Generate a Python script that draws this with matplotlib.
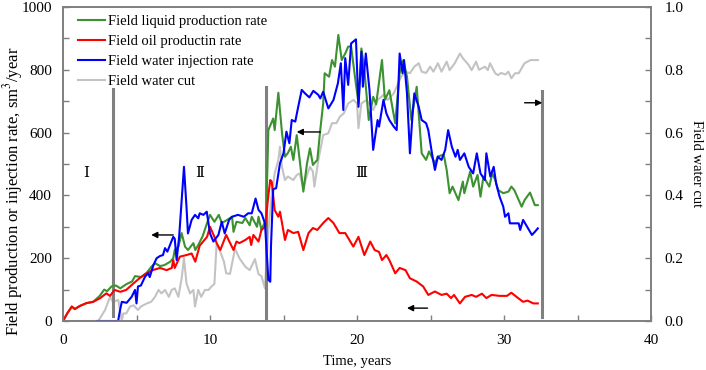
import matplotlib
matplotlib.use("Agg")
from matplotlib import pyplot as plt
from matplotlib.ticker import MultipleLocator

plt.rcParams["font.family"] = ["Liberation Serif", "DejaVu Serif"]
plt.rcParams["mathtext.fontset"] = "stix"
plt.rcParams["font.size"] = 10.5

# oil production rate, sm3/year
t_oil = [0, 0.3, 0.6, 0.8, 1.15, 1.6, 2.05, 2.5, 2.95, 3.2, 3.5, 3.9, 4.3, 4.8, 5.2,
         5.7, 6.1, 6.6, 7.05, 7.4, 7.5, 7.6, 7.95, 8.4, 8.75, 9.0, 9.3, 9.8, 10.0,
         10.3, 10.45, 10.7, 11.1, 11.6, 11.8, 12.0, 12.4, 12.7, 12.8, 12.95, 13.3,
         13.5, 13.75, 13.97, 14.1, 14.2, 14.4, 14.65, 14.76, 14.9, 15.1, 15.3, 15.67,
         16.0, 16.35, 16.7, 17.0, 17.3, 17.7, 18.05, 18.4, 18.8, 19.2, 19.75, 20.1,
         20.5, 20.9, 21.2, 21.5, 21.7, 22.0, 22.2, 22.6, 22.9, 23.3, 23.6, 24.05,
         24.5, 24.85, 25.3, 25.75, 26.1, 26.4, 26.6, 27.0, 27.35, 27.8, 28.1, 28.5,
         28.8, 29.15, 29.7, 30.2, 30.5, 30.85, 31.3, 31.6, 32.0, 32.3]
q_oil = [0, 25, 46, 38, 48, 57, 61, 72, 88, 80, 99, 93, 99, 120, 136,
         152, 162, 169, 162, 169, 194, 169, 205, 210, 215, 189, 240, 268, 300,
         268, 248, 226, 274, 226, 253, 248, 258, 268, 242, 274, 253,
         290, 300, 400, 449, 443, 353, 332, 348, 312, 258, 290, 280,
         284, 226, 280, 296, 290, 312, 328, 312, 280, 280, 237, 268,
         210, 253, 226, 220, 194, 210, 194, 152, 169, 162, 136, 126,
         110, 83, 94, 83, 87, 73, 83, 56, 77, 83, 77, 87,
         73, 83, 80, 80, 90, 77, 61, 65, 56, 56]

# liquid production rate, sm3/year
t_liq = [0, 0.3, 0.6, 0.8, 1.15, 1.6, 2.05, 2.5, 2.8, 3.0, 3.3, 3.6, 3.9, 4.3, 4.7,
         4.9, 5.3, 5.7, 6.0, 6.26, 6.6, 6.9, 7.3, 7.5, 7.6, 7.85, 8.07, 8.3, 8.5,
         8.87, 9.0, 9.2, 9.5, 9.8, 10.0, 10.3, 10.6, 10.8, 11.1, 11.5, 11.6, 11.8,
         12.2, 12.4, 12.7, 12.84, 13.2, 13.3, 13.5, 13.7, 13.8, 13.97, 14.3, 14.4,
         14.65, 14.9, 15.1, 15.3, 15.5, 15.67, 15.9, 16.1, 16.35, 16.6, 16.8, 17.0,
         17.3, 17.5, 17.7, 17.8, 18.1, 18.3, 18.5, 18.73, 18.96, 19.2, 19.4, 19.6,
         19.86, 20.1, 20.3, 20.5, 20.8, 21.1, 21.3, 21.7, 21.9, 22.2, 22.6, 22.9,
         23.15, 23.4, 23.7, 24.06, 24.4, 24.7, 24.9, 25.3, 25.5, 25.9, 26.1, 26.3,
         26.5, 26.9, 27.2, 27.3, 27.7, 27.9, 28.2, 28.4, 28.6, 29.0, 29.2, 29.4,
         29.6, 29.95, 30.3, 30.5, 30.7, 31.2, 31.4, 31.77, 32.1, 32.3]
q_liq = [0, 25, 46, 38, 48, 57, 61, 80, 100, 95, 110, 113, 104, 117, 126,
         143, 140, 154, 172, 184, 175, 178, 189, 200, 226, 237, 280, 237, 226,
         248, 226, 242, 270, 312, 338, 316, 338, 312, 320, 332, 284, 316,
         312, 328, 305, 332, 300, 332, 290, 312, 300, 608, 645, 608,
         727, 598, 523, 535, 555, 513, 592, 513, 412, 502, 550, 497,
         513, 608, 693, 789, 778, 831, 810, 911, 831, 852, 874, 874,
         778, 693, 868, 800, 640, 714, 690, 831, 704, 735, 630, 789,
         831, 778, 640, 746, 534, 513, 540, 502, 524, 530, 481, 407,
         428, 385, 444, 407, 476, 428, 465, 396, 460, 428, 470, 450,
         417, 407, 412, 428, 417, 364, 385, 409, 369, 369]

# water injection rate, sm3/year
t_inj = [2.3, 3.75, 3.88, 4.0, 4.33, 4.67, 4.9, 5.0, 5.1, 5.3, 5.58, 5.8, 5.9, 6.15,
         6.37, 6.6, 6.8, 6.94, 7.1, 7.28, 7.5, 7.6, 7.73, 7.9, 8.07, 8.23, 8.4, 8.5,
         8.75, 8.98, 9.2, 9.3, 9.55, 9.78, 10.0, 10.23, 10.57, 10.8, 11.0, 11.3,
         11.5, 11.9, 12.3, 12.6, 12.84, 13.1, 13.3, 13.5, 13.74, 13.97, 14.1, 14.15,
         14.3, 14.5, 14.76, 15.0, 15.2, 15.4, 15.56, 15.8, 16.0, 16.24, 16.46, 16.76,
         17.03, 17.37, 17.5, 17.7, 18.05, 18.4, 18.7, 18.9, 19.07, 19.2, 19.4, 19.6,
         19.93, 20.1, 20.3, 20.4, 20.6, 20.85, 21.1, 21.4, 21.5, 21.8, 22.0, 22.2,
         22.5, 22.7, 22.9, 23.1, 23.2, 23.4, 23.6, 23.8, 23.9, 24.2, 24.4, 24.7,
         24.85, 25.1, 25.3, 25.5, 25.75, 26.0, 26.2, 26.45, 26.7, 26.85, 27.0, 27.3,
         27.6, 27.9, 28.15, 28.4, 28.7, 28.8, 29.07, 29.3, 29.46, 29.7, 29.95, 30.07,
         30.3, 30.4, 30.75, 31.0, 31.1, 31.3, 31.5, 31.9, 32.1, 32.3]
q_inj = [0, 0, 35, 61, 58, 77, 99, 56, 110, 113, 141, 152, 140, 178,
         200, 207, 210, 232, 221, 242, 268, 262, 194, 268, 385, 491, 364, 279,
         322, 338, 327, 343, 338, 348, 279, 253, 274, 316, 279, 322,
         332, 338, 332, 343, 343, 390, 354, 343, 311, 131, 125, 240,
         420, 423, 502, 534, 603, 566, 640, 635, 682, 736, 725, 712,
         733, 720, 709, 730, 677, 704, 757, 821, 672, 837, 752, 884,
         897, 682, 858, 746, 852, 735, 545, 640, 619, 704, 661, 640,
         619, 608, 852, 789, 831, 725, 534, 672, 725, 682, 640, 630,
         608, 534, 481, 523, 513, 545, 608, 555, 523, 545, 513, 534,
         491, 470, 534, 470, 449, 534, 460, 491, 439, 396, 364, 332,
         343, 311, 311, 311, 290, 322, 306, 274, 284, 295]

# field water cut, fraction
t_wc = [0, 2.4, 2.86, 3.2, 3.4, 3.76, 4.0, 4.1, 4.3, 4.56, 4.8, 5.1, 5.3, 5.7, 6.0,
        6.26, 6.5, 6.7, 6.94, 7.2, 7.4, 7.6, 7.85, 8.07, 8.23, 8.4, 8.64, 8.87, 8.98,
        9.2, 9.4, 9.66, 9.9, 10.1, 10.3, 10.45, 10.7, 10.95, 11.1, 11.36, 11.7, 12.0,
        12.4, 12.7, 13.06, 13.3, 13.5, 13.74, 13.97, 14.2, 14.4, 14.65, 14.76, 14.9,
        15.1, 15.3, 15.67, 15.9, 16.1, 16.35, 16.6, 16.8, 17.0, 17.1, 17.37, 17.7,
        18.05, 18.3, 18.6, 18.84, 19.1, 19.4, 19.76, 20.0, 20.1, 20.3, 20.65, 21.1,
        21.4, 21.8, 22.1, 22.5, 22.7, 23.0, 23.3, 23.6, 23.9, 24.2, 24.4, 24.7,
        24.97, 25.2, 25.5, 25.75, 26.1, 26.3, 26.65, 27.0, 27.2, 27.6, 27.8, 28.1,
        28.3, 28.7, 28.9, 29.05, 29.4, 29.6, 29.8, 30.1, 30.3, 30.5, 30.75, 31.0,
        31.2, 31.4, 31.8, 32.3]
wc = [0, 0, 0.035, 0.077, 0.061, 0.067, 0.0, 0.024, 0.024, 0.046, 0.05, 0.035, 0.046, 0.056, 0.061,
      0.077, 0.099, 0.088, 0.099, 0.077, 0.099, 0.104, 0.077, 0.136, 0.2, 0.12, 0.088, 0.099, 0.046,
      0.099, 0.077, 0.099, 0.099, 0.11, 0.118, 0.245, 0.22, 0.189, 0.152, 0.15, 0.23, 0.2,
      0.173, 0.162, 0.197, 0.149, 0.143, 0.104, 0.29, 0.40, 0.47, 0.513, 0.555, 0.49,
      0.449, 0.46, 0.449, 0.465, 0.47, 0.423, 0.465, 0.491, 0.476, 0.428, 0.513, 0.592,
      0.598, 0.63, 0.63, 0.651, 0.661, 0.693, 0.704, 0.693, 0.614, 0.693, 0.704, 0.672,
      0.704, 0.72, 0.704, 0.725, 0.746, 0.778, 0.794, 0.789, 0.81, 0.821, 0.794, 0.79,
      0.81, 0.794, 0.821, 0.794, 0.826, 0.799, 0.821, 0.852, 0.837, 0.815, 0.799, 0.826,
      0.80, 0.81, 0.799, 0.821, 0.789, 0.783, 0.79, 0.785, 0.794, 0.773, 0.789, 0.789,
      0.805, 0.821, 0.831, 0.831]

# stage boundaries (time, bottom, top) and labels
boundaries = [(3.4, 16, 739), (13.8, 0, 745), (32.6, 13, 733)]
stages = [("Ⅰ", 1.6, 470), ("Ⅱ", 9.3, 470), ("Ⅲ", 20.3, 470)]
# arrows (tail -> head), left-axis units
arrows = [((7.5, 274), (6.0, 274)), ((17.5, 602), (15.9, 602)),
          ((24.8, 41), (23.4, 41)), ((31.4, 695), (32.6, 695))]

axis_grey = "#7f7f7f"

fig = plt.figure(figsize=(7.06, 3.70), dpi=100)
ax = fig.add_axes([63 / 706, 1 - 321 / 370, 588 / 706, 314 / 370])
ax2 = ax.twinx()
ax.set_zorder(ax2.get_zorder() + 1)
ax.patch.set_visible(False)

l_liq, = ax.plot(t_liq, q_liq, color="#3c9130", lw=1.5, label="Field liquid production rate")
l_oil, = ax.plot(t_oil, q_oil, color="#ff0000", lw=1.5, label="Field oil productin rate")
l_inj, = ax.plot(t_inj, q_inj, color="#0000ff", lw=1.5, label="Field water injection rate")
l_wc, = ax2.plot(t_wc, wc, color="#c3c3c3", lw=1.5, label="Field water cut")

for x, y0, y1 in boundaries:
    ax.plot([x, x], [y0, y1], color="#808080", lw=2.2, zorder=1)
for s, x, y in stages:
    ax.text(x, y, s, ha="center", va="center", fontsize=11)
for tail, head in arrows:
    ax.annotate("", xy=head, xytext=tail,
                arrowprops=dict(arrowstyle="-|>", color="k", lw=1, mutation_scale=9,
                                shrinkA=0, shrinkB=0))

ax.set_xlim(0, 40)
ax.set_ylim(0, 1000)
ax2.set_ylim(0, 1)
ax.xaxis.set_major_locator(MultipleLocator(10))
ax.xaxis.set_minor_locator(MultipleLocator(5))
ax.yaxis.set_major_locator(MultipleLocator(200))
ax.yaxis.set_minor_locator(MultipleLocator(100))
ax2.yaxis.set_major_locator(MultipleLocator(0.2))
ax2.yaxis.set_minor_locator(MultipleLocator(0.1))
ax2.set_yticklabels([f"{v:.1f}" for v in ax2.get_yticks()])

for a in (ax, ax2):
    for sp in a.spines.values():
        sp.set_color(axis_grey)
        sp.set_linewidth(1.2)
    a.tick_params(which="both", direction="in", color=axis_grey, labelsize=11)
    a.tick_params(which="major", length=4, width=1)
    a.tick_params(which="minor", length=4, width=1)
ax.tick_params(axis="x", pad=9)
ax.tick_params(axis="y", pad=8)
ax2.tick_params(axis="y", pad=9.5)

ax.set_xlabel("Time, years", fontsize=10.5, labelpad=6)
ax.set_ylabel("Field production or injection rate, sm$^3$/year", fontsize=12)
ax.yaxis.set_label_coords(-0.065, 0.414)
ax2.set_ylabel("Field water cut", fontsize=10.5, rotation=270, labelpad=14)

ax.legend(handles=[l_liq, l_oil, l_inj, l_wc], loc="upper left", frameon=False,
          bbox_to_anchor=(0.015, 0.995), handlelength=1.9, handletextpad=0.15,
          labelspacing=0.48, borderaxespad=0, fontsize=10.5)

fig.savefig("out.png", dpi=100)
